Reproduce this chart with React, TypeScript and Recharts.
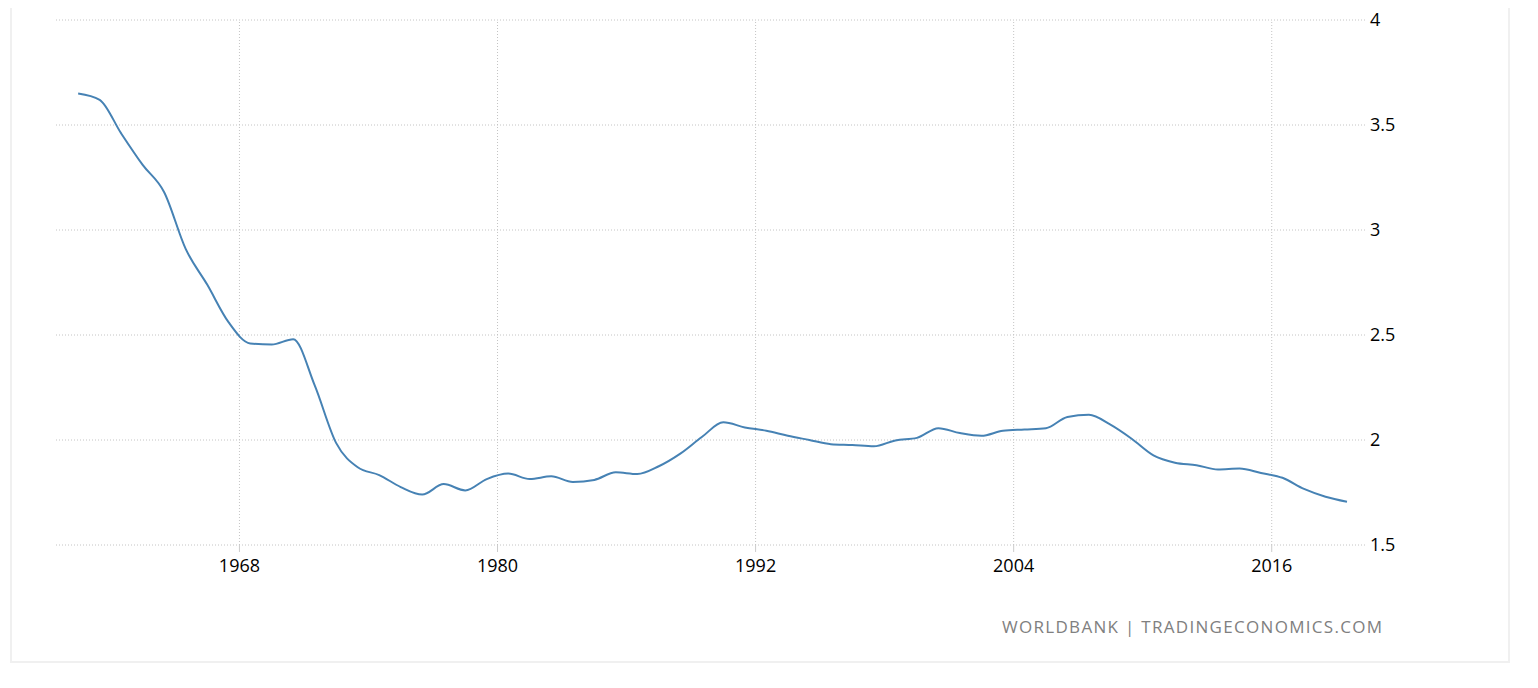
import React from "react";
import { LineChart, Line, XAxis, YAxis, CartesianGrid, ReferenceLine } from "recharts";

const years = [
  1960, 1961, 1962, 1963, 1964, 1965, 1966, 1967, 1968, 1969,
  1970, 1971, 1972, 1973, 1974, 1975, 1976, 1977, 1978, 1979,
  1980, 1981, 1982, 1983, 1984, 1985, 1986, 1987, 1988, 1989,
  1990, 1991, 1992, 1993, 1994, 1995, 1996, 1997, 1998, 1999,
  2000, 2001, 2002, 2003, 2004, 2005, 2006, 2007, 2008, 2009,
  2010, 2011, 2012, 2013, 2014, 2015, 2016, 2017, 2018, 2019,
];

const fertility = [
  3.65, 3.62, 3.46, 3.31, 3.18, 2.91, 2.74, 2.56, 2.46, 2.455,
  2.48, 2.26, 1.985, 1.87, 1.833, 1.776, 1.74, 1.79, 1.76, 1.814,
  1.84, 1.814, 1.827, 1.8, 1.81, 1.846, 1.838, 1.875, 1.935, 2.014,
  2.084, 2.06, 2.044, 2.02, 2.0, 1.98, 1.976, 1.97, 1.998, 2.01,
  2.056, 2.033, 2.02, 2.044, 2.05, 2.056, 2.11, 2.12, 2.073, 2.005,
  1.927, 1.892, 1.88, 1.86, 1.864, 1.843, 1.82, 1.767, 1.73, 1.706,
];

const xTicks = [1968, 1980, 1992, 2004, 2016];
const yTicks = [1.5, 2, 2.5, 3, 3.5, 4];

// annual values are plotted at mid-year
const data = years.map((y, i) => ({ t: y + 0.5, value: fertility[i] }));

const FONT = "'Open Sans', sans-serif";
const GRID = "#c4c4c4";

export default function App() {
  return (
    <div style={{ position: "relative", width: 1522, height: 672 }}>
      <div
        style={{
          position: "absolute",
          left: 2,
          top: -20,
          width: 1500,
          height: 675,
          borderLeft: "2px solid #f0f0f0",
          borderRight: "2px solid #f0f0f0",
          borderBottom: "2px solid #f0f0f0",
          boxSizing: "border-box",
        }}
      />
      <div style={{ position: "absolute", left: 0, top: 0 }}>
        <LineChart
          width={1430}
          height={577}
          data={data}
          margin={{ top: 12, right: 0, left: 48, bottom: 0 }}
        >
          <CartesianGrid stroke={GRID} strokeDasharray="1 2" vertical={false} />
          {xTicks.map((t) => (
            <ReferenceLine key={t} x={t} stroke={GRID} strokeDasharray="1 2" ifOverflow="extendDomain" />
          ))}
          <XAxis
            dataKey="t"
            type="number"
            domain={[1959.47, 2020.43]}
            ticks={xTicks}
            allowDataOverflow
            axisLine={false}
            tickLine={{ stroke: "#cccccc" }}
            tickSize={7}
            tickMargin={7}
            height={40}
            tick={{ fill: "#000000", fontSize: 18, fontFamily: FONT }}
          />
          <YAxis
            orientation="right"
            domain={[1.5, 4]}
            ticks={yTicks}
            axisLine={false}
            tickLine={false}
            tickSize={0}
            tickMargin={3}
            width={71}
            tick={{ fill: "#000000", fontSize: 18, fontFamily: FONT }}
          />
          <Line
            type="monotone"
            dataKey="value"
            stroke="#4682b4"
            strokeWidth={2}
            dot={false}
            activeDot={false}
            isAnimationActive={false}
          />
        </LineChart>
      </div>
      <svg
        style={{ position: "absolute", left: 0, top: 0 }}
        width={1522}
        height={672}
      >
        <text
          x={1374}
          y={625}
          textAnchor="end"
          fill="#808080"
          fontSize={17}
          fontFamily={FONT}
          textLength={380}
          lengthAdjust="spacing"
        >
          WORLDBANK | TRADINGECONOMICS.COM
        </text>
      </svg>
    </div>
  );
}
